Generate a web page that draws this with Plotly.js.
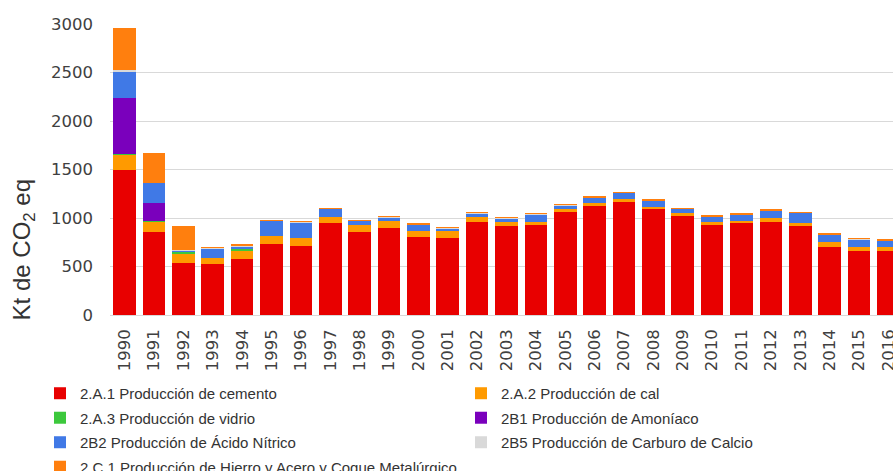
<!DOCTYPE html>
<html>
<head>
<meta charset="utf-8">
<script src="https://cdn.plot.ly/plotly-3.0.1.min.js"></script>
<style>
html, body { margin: 0; padding: 0; overflow: hidden; background: #fff; }
#chart { width: 905px; height: 471px; }
</style>
</head>
<body>
<div id="chart"></div>
<script>
const years = ['1990','1991','1992','1993','1994','1995','1996','1997','1998','1999','2000','2001','2002','2003','2004','2005','2006','2007','2008','2009','2010','2011','2012','2013','2014','2015','2016'];

const cemento  = [1495, 853, 533, 523, 574, 732, 714, 945, 853, 894, 807, 797, 962, 918, 928, 1059, 1127, 1165, 1090, 1021, 925, 952, 956, 921, 704, 663, 663];
const cal      = [150, 109, 100, 62, 89, 82, 83, 68, 75, 78, 62, 66, 51, 38, 34, 31, 24, 28, 27, 28, 37, 17, 41, 30, 45, 35, 41];
const vidrio   = [20, 3, 17, 2, 15, 1, 1, 1, 1, 1, 1, 1, 1, 1, 1, 1, 1, 1, 1, 1, 1, 1, 1, 1, 1, 1, 1];
const amoniaco = [575, 190, 0, 0, 0, 0, 0, 0, 0, 0, 0, 0, 0, 0, 0, 0, 0, 0, 0, 0, 0, 0, 0, 0, 0, 0, 0];
const nitrico  = [267, 206, 5, 95, 20, 155, 154, 77, 40, 30, 55, 25, 30, 35, 66, 35, 50, 60, 55, 38, 46, 60, 75, 96, 72, 76, 56];
const carburo  = [17, 5, 15, 5, 10, 3, 5, 5, 5, 5, 5, 4, 5, 4, 12, 5, 5, 4, 4, 4, 4, 4, 4, 4, 4, 4, 4];
const hierro   = [430, 309, 250, 15, 20, 5, 14, 12, 10, 12, 20, 10, 15, 10, 13, 12, 20, 12, 15, 13, 14, 13, 12, 12, 15, 17, 14];

const seriesNames = [
  '2.A.1 Producción de cemento',
  '2.A.2 Producción de cal',
  '2.A.3 Producción de vidrio',
  '2B1 Producción de Amoníaco',
  '2B2 Producción de Ácido Nítrico',
  '2B5 Producción de Carburo de Calcio',
  '2.C.1 Producción de Hierro y Acero y Coque Metalúrgico'
];
const seriesValues = [cemento, cal, vidrio, amoniaco, nitrico, carburo, hierro];
const seriesColors = ['#E80000', '#FF9A00', '#3CC83C', '#7A00BC', '#4079E6', '#D9D9D9', '#FF7F0E'];
const seriesLegend = ['legend', 'legend2', 'legend', 'legend2', 'legend', 'legend2', 'legend'];

const traces = seriesNames.map((name, i) => ({
  type: 'bar',
  name: name,
  x: years,
  y: seriesValues[i],
  marker: { color: seriesColors[i], line: { width: 0 } },
  legend: seriesLegend[i],
  legendgroup: 'g' + i
}));

const font = 'Liberation Sans, Arial, sans-serif';
const tickFont = 'DejaVu Sans, Verdana, sans-serif';
const legendCommon = {
  orientation: 'v',
  traceorder: 'grouped',
  tracegroupgap: 2,
  font: { family: font, size: 15, color: '#333333' },
  bgcolor: 'rgba(0,0,0,0)',
  borderwidth: 0,
  xref: 'paper', yref: 'paper',
  xanchor: 'left', yanchor: 'top',
  y: -0.213
};

const layout = {
  width: 905,
  height: 471,
  margin: { l: 110, r: 2, t: 24, b: 156, autoexpand: false },
  paper_bgcolor: '#ffffff',
  plot_bgcolor: '#ffffff',
  barmode: 'stack',
  bargap: 0.23,
  font: { family: font, color: '#404040' },
  xaxis: {
    type: 'category',
    range: [-0.5, 26.5],
    tickangle: -90,
    tickfont: { family: tickFont, size: 16.5, color: '#404040' },
    ticks: '',
    ticklabelstandoff: 10,
    showgrid: false,
    showline: false,
    zeroline: false,
    fixedrange: true
  },
  yaxis: {
    range: [0, 3000],
    dtick: 500,
    tickfont: { family: tickFont, size: 16.5, color: '#404040' },
    ticks: '',
    ticklabelstandoff: 16,
    gridcolor: '#D9D9D9',
    gridwidth: 1,
    zeroline: true,
    zerolinecolor: '#D9D9D9',
    zerolinewidth: 1,
    showline: false,
    fixedrange: true
  },
  legend: Object.assign({}, legendCommon, { x: -0.0883 }),
  legend2: Object.assign({}, legendCommon, { x: 0.4426 }),
  annotations: [{
    text: 'Kt de CO<sub>2</sub> eq',
    textangle: -90,
    xref: 'paper', yref: 'paper',
    x: -0.1097, y: 0.222,
    xanchor: 'center', yanchor: 'middle',
    showarrow: false,
    font: { family: font, size: 24, color: '#333333' }
  }]
};

Plotly.newPlot('chart', traces, layout, { displayModeBar: false, staticPlot: true });
</script>
</body>
</html>
